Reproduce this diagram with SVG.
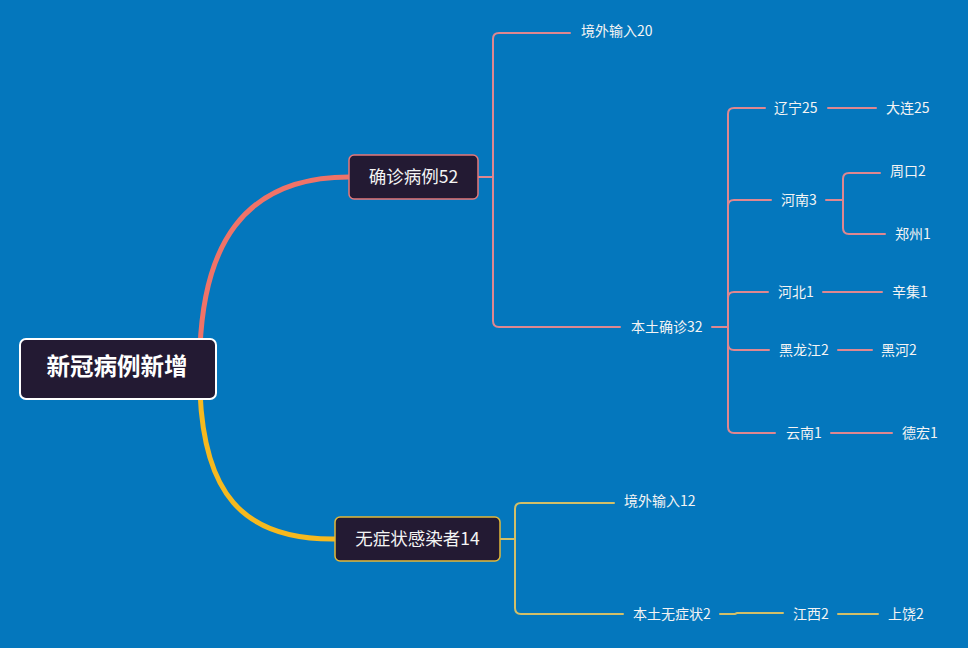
<svg xmlns="http://www.w3.org/2000/svg" width="968" height="648" viewBox="0 0 968 648">
<style>
text{font-family:"Noto Sans CJK SC","Noto Sans",sans-serif;fill:#f4f4f4}
.s{font-size:14px}
.m{font-size:17.5px;text-anchor:middle}
.r{font-size:23.5px;font-weight:bold;text-anchor:middle;fill:#fff}
.p{fill:none;stroke:#df8790;stroke-width:2;stroke-linecap:round}
.y{fill:none;stroke:#d2bf68;stroke-width:2;stroke-linecap:round}
.t{fill:none;stroke-width:5;stroke-linecap:round}
</style>
<rect width="968" height="648" fill="#0477bd"/>
<g id="connectors">
<path class="t" stroke="#f07368" d="M200,348 C204,250 240,177 349,177"/>
<path class="t" stroke="#f6b91f" d="M200,392 C204,490 240,540 335,539"/>
<path class="p" d="M478,177 H493"/>
<path class="p" d="M570,33 H499 Q493,33 493,39 V321 Q493,327 499,327 H620"/>
<path class="p" d="M712,327 H728"/>
<path class="p" d="M765,108 H734 Q728,108 728,114 V427 Q728,433 734,433 H775"/>
<path class="p" d="M728,206 Q728,200 734,200 H771"/>
<path class="p" d="M728,298 Q728,292 734,292 H768"/>
<path class="p" d="M728,344 Q728,350 734,350 H769"/>
<path class="p" d="M828,108 H876"/>
<path class="p" d="M826,200 H843"/>
<path class="p" d="M880,173 H849 Q843,173 843,179 V228 Q843,234 849,234 H885"/>
<path class="p" d="M823,292 H882"/>
<path class="p" d="M838,350 H872"/>
<path class="p" d="M831,433 H892"/>
<path class="y" d="M500,539 H515"/>
<path class="y" d="M614,503 H521 Q515,503 515,509 V608 Q515,614 521,614 H623"/>
<path class="y" d="M720,614 H735 L737,613 H783"/>
<path class="y" d="M838,614 H878"/>
</g>
<g id="root">
<rect x="20" y="339" width="196" height="60" rx="6" fill="#231a33" stroke="#fff" stroke-width="2"/>
<text class="r" x="117" y="375">新冠病例新增</text>
</g>
<g id="n-confirmed">
<rect x="349" y="155" width="129" height="44" rx="5" fill="#231a33" stroke="#e5787a" stroke-width="1.5"/>
<text class="m" x="413.5" y="183">确诊病例52</text>
</g>
<g id="n-asym">
<rect x="335" y="517" width="165" height="44" rx="5" fill="#231a33" stroke="#e2b93b" stroke-width="1.5"/>
<text class="m" x="417.5" y="545">无症状感染者14</text>
</g>
<g id="n-import20"><text class="s" x="581" y="36">境外输入20</text></g>
<g id="n-local32"><text class="s" x="631" y="332">本土确诊32</text></g>
<g id="n-liaoning"><text class="s" x="774" y="113">辽宁25</text></g>
<g id="n-dalian"><text class="s" x="886" y="113">大连25</text></g>
<g id="n-henan"><text class="s" x="781" y="205">河南3</text></g>
<g id="n-zhoukou"><text class="s" x="890" y="176">周口2</text></g>
<g id="n-zhengzhou"><text class="s" x="895" y="239">郑州1</text></g>
<g id="n-hebei"><text class="s" x="778" y="297">河北1</text></g>
<g id="n-xinji"><text class="s" x="892" y="297">辛集1</text></g>
<g id="n-hlj"><text class="s" x="779" y="355">黑龙江2</text></g>
<g id="n-heihe"><text class="s" x="881" y="355">黑河2</text></g>
<g id="n-yunnan"><text class="s" x="786" y="438">云南1</text></g>
<g id="n-dehong"><text class="s" x="902" y="438">德宏1</text></g>
<g id="n-import12"><text class="s" x="624" y="506">境外输入12</text></g>
<g id="n-localasym"><text class="s" x="633" y="619">本土无症状2</text></g>
<g id="n-jiangxi"><text class="s" x="793" y="619">江西2</text></g>
<g id="n-shangrao"><text class="s" x="888" y="619">上饶2</text></g>
</svg>
